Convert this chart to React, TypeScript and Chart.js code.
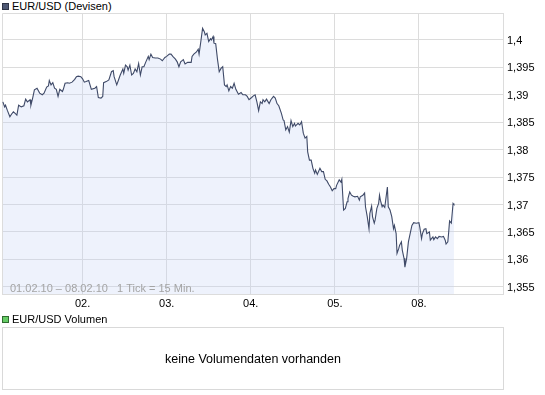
import React, { useEffect, useRef } from "react";
import { Chart, registerables } from "chart.js";

Chart.register(...registerables);

// hours relative to 02.02.10 00:00 (trading time, weekend compressed)
const tickHours = [
  -22.75, -22.25, -22, -21.5, -20.75, -20.25, -19.75, -19.25, -18.75, -18.25,
  -17.5, -16.75, -16.25, -15.75, -15, -14.75, -14.25, -13.75, -13, -12.25,
  -11.5, -11, -10.25, -9.75, -9.5, -9, -8.5, -8, -7.5, -7,
  -6.5, -5.75, -5.5, -5, -4.25, -3.75, -3, -2.25, -1.75, -1.25,
  -0.5, 0, 0.5, 1, 1.75, 2.5, 3.5, 4, 4.5, 5.25,
  5.75, 6, 6.75, 7.5, 8.25, 8.75, 9, 9.75, 10.25, 10.75,
  11.5, 11.75, 12.25, 12.75, 13, 13.5, 14, 14.5, 15, 15.5,
  16, 16.5, 17, 17.5, 18, 18.75, 19, 19.5, 20, 20.75,
  21.5, 22.25, 22.75, 23.5, 24, 24.75, 25.25, 25.75, 26.5, 27,
  27.5, 28, 28.75, 29.25, 30, 31, 31.25, 31.75, 32.5, 33,
  33.25, 33.75, 34.25, 34.75, 35, 35.5, 36, 36.5, 36.75, 37.25,
  37.5, 38, 38.5, 39, 39.5, 40, 40.5, 41, 41.25, 41.75,
  42.25, 42.75, 43.25, 43.75, 44.5, 45.25, 45.75, 46.5, 47, 47.5,
  48.25, 48.75, 49.25, 49.75, 50.25, 50.75, 51.25, 51.5, 52, 52.5,
  53.25, 53.75, 54.5, 55, 55.5, 56, 56.75, 57.25, 57.5, 58,
  58.5, 59, 59.5, 60, 60.5, 60.75, 61.5, 62, 62.5, 63,
  63.5, 64, 64.25, 64.75, 65.25, 65.75, 66.25, 66.5, 67, 67.75,
  68.25, 68.75, 69.25, 69.75, 70.25, 70.75, 71.25, 71.75, 72.25, 72.5,
  73.25, 73.75, 74, 74.5, 75, 75.5, 75.75, 76.25, 76.75, 77.25,
  77.75, 78.5, 79, 79.25, 80, 80.5, 80.75, 81.25, 81.75, 82,
  82.5, 82.75, 83.25, 83.5, 84, 84.5, 84.75, 85, 85.5, 85.75,
  86.25, 87, 87.25, 87.75, 88.25, 88.75, 89, 89.5, 89.75, 90.25,
  90.5, 91, 91.25, 91.75, 92, 92.5, 93, 93.5, 94, 94.5,
  95.25, 96, 96.25, 96.75, 97, 97.5, 98, 98.25, 99, 99.25,
  100, 100.25, 100.75, 101.25, 101.75, 102.5, 103, 103.5, 103.75, 104.25,
  104.5, 104.75, 105.25, 105.5, 105.75, 106,
];

const rates = [
  1.3887, 1.3878, 1.3881, 1.3872, 1.386, 1.3865, 1.3869, 1.3866, 1.3863, 1.3881,
  1.3878, 1.388, 1.3892, 1.3887, 1.3891, 1.3881, 1.3894, 1.3909, 1.3912, 1.3903,
  1.39, 1.3903, 1.3914, 1.3916, 1.3926, 1.3918, 1.3922, 1.3912, 1.391, 1.3897,
  1.391, 1.3906, 1.391, 1.3921, 1.3922, 1.3921, 1.3923, 1.3928, 1.3933, 1.3934,
  1.3933, 1.3929, 1.3923, 1.3924, 1.3926, 1.391, 1.3912, 1.3915, 1.3895, 1.3894,
  1.3897, 1.3922, 1.3924, 1.3927, 1.3942, 1.3944, 1.3933, 1.3918, 1.3927, 1.3936,
  1.3947, 1.3939, 1.3954, 1.3951, 1.3945, 1.3954, 1.3936, 1.3939, 1.3947, 1.3942,
  1.3957, 1.3936, 1.3951, 1.3951, 1.3959, 1.397, 1.3964, 1.3974, 1.3968, 1.3967,
  1.3967, 1.3965, 1.3962, 1.3968, 1.397, 1.3974, 1.3974, 1.397, 1.3965, 1.396,
  1.3951, 1.396, 1.3964, 1.3956, 1.3959, 1.3959, 1.397, 1.3974, 1.3978, 1.3983,
  1.3974, 1.3997, 1.4021, 1.4015, 1.4009, 1.4012, 1.3997, 1.4002, 1.4, 1.4006,
  1.3994, 1.3993, 1.3965, 1.3942, 1.3948, 1.3951, 1.3918, 1.3915, 1.3918, 1.3907,
  1.3915, 1.3912, 1.3921, 1.391, 1.3901, 1.3904, 1.39, 1.39, 1.3897, 1.3891,
  1.3895, 1.3898, 1.39, 1.3887, 1.3871, 1.3887, 1.3884, 1.3891, 1.3887, 1.3892,
  1.3884, 1.3891, 1.3897, 1.3894, 1.3884, 1.388, 1.3866, 1.3854, 1.3853, 1.3836,
  1.3842, 1.3832, 1.3853, 1.3842, 1.3848, 1.3843, 1.3848, 1.3845, 1.3851, 1.383,
  1.3821, 1.3824, 1.3796, 1.3781, 1.3781, 1.3766, 1.3757, 1.3763, 1.3755, 1.3766,
  1.376, 1.376, 1.3746, 1.3743, 1.3737, 1.3732, 1.3725, 1.3729, 1.3729, 1.3735,
  1.3745, 1.3741, 1.3746, 1.369, 1.3693, 1.3705, 1.3711, 1.3723, 1.3717, 1.3715,
  1.3714, 1.3715, 1.3708, 1.3714, 1.3717, 1.3721, 1.3696, 1.3678, 1.3656, 1.3684,
  1.3697, 1.3678, 1.3666, 1.3672, 1.3693, 1.3702, 1.3717, 1.3708, 1.3696, 1.3699,
  1.3695, 1.3732, 1.3696, 1.369, 1.3678, 1.3656, 1.3662, 1.3647, 1.3611, 1.362,
  1.3626, 1.3632, 1.3617, 1.3602, 1.3586, 1.3602, 1.3632, 1.3647, 1.3662, 1.3667,
  1.3666, 1.3667, 1.3659, 1.3638, 1.3647, 1.3655, 1.3656, 1.3647, 1.365, 1.3635,
  1.3641, 1.3636, 1.3641, 1.3638, 1.3642, 1.3641, 1.3642, 1.3635, 1.3628, 1.3632,
  1.365, 1.367, 1.3666, 1.3684, 1.3702, 1.37,
];

const xTickHours = [0, 24, 48, 72, 96];
const xTickLabels = ["02.", "03.", "04.", "05.", "08."];
const yTickValues = [1.355, 1.36, 1.365, 1.37, 1.375, 1.38, 1.385, 1.39, 1.395, 1.4];
const rangeText = "01.02.10 \u2013 08.02.10   1 Tick = 15 Min.";
const seriesTitle = "EUR/USD (Devisen)";
const volumeTitle = "EUR/USD Volumen";
const volumeEmptyText = "keine Volumendaten vorhanden";

const FONT = "'Liberation Sans', Arial, sans-serif";
const GRID = "#dcdcdc";

export default function App() {
  const ref = useRef<HTMLCanvasElement>(null);

  useEffect(() => {
    if (!ref.current) return;
    Chart.defaults.font.family = FONT;
    Chart.defaults.font.size = 11;

    const framePlugin = {
      id: "frame",
      beforeDatasetsDraw(chart: any) {
        const { ctx, chartArea: a } = chart;
        ctx.save();
        ctx.strokeStyle = GRID;
        ctx.lineWidth = 1;
        ctx.beginPath();
        ctx.moveTo(Math.round(a.left) + 0.5, Math.round(a.bottom));
        ctx.lineTo(Math.round(a.left) + 0.5, Math.round(a.top) + 0.5);
        ctx.lineTo(Math.round(a.right), Math.round(a.top) + 0.5);
        ctx.stroke();
        ctx.restore();
      },
      afterDatasetsDraw(chart: any) {
        const { ctx, chartArea: a } = chart;
        ctx.save();
        ctx.fillStyle = "#a4a4a4";
        ctx.font = "11px " + FONT;
        ctx.textBaseline = "middle";
        ctx.textAlign = "left";
        ctx.fillText(rangeText, a.left + 8, a.bottom - 5.5);
        ctx.restore();
      },
    };

    const chart = new Chart(ref.current, {
      type: "line",
      data: {
        datasets: [
          {
            label: seriesTitle,
            data: tickHours.map((h, i) => ({ x: h, y: rates[i] })),
            borderColor: "#3f4a68",
            borderWidth: 1.1,
            backgroundColor: "rgba(200, 213, 245, 0.3)",
            fill: "start",
            pointRadius: 0,
            tension: 0,
          },
        ],
      },
      options: {
        animation: false,
        responsive: false,
        events: [],
        layout: { padding: { left: 2, top: 13, right: 0, bottom: 0 } },
        plugins: { legend: { display: false }, tooltip: { enabled: false } },
        scales: {
          x: {
            type: "linear",
            min: -23,
            max: 120,
            afterFit: (s: any) => {
              s.height = 21;
            },
            afterBuildTicks: (s: any) => {
              s.ticks = xTickHours.map((v) => ({ value: v }));
            },
            grid: { color: GRID, drawTicks: false },
            border: { display: true, color: GRID },
            ticks: {
              padding: 3,
              color: "#000",
              maxRotation: 0,
              autoSkip: false,
              callback: (v: any) => xTickLabels[xTickHours.indexOf(Number(v))] ?? "",
            },
          },
          y: {
            position: "right",
            min: 1.3537,
            max: 1.4049,
            afterFit: (s: any) => {
              s.width = 42;
            },
            afterBuildTicks: (s: any) => {
              s.ticks = yTickValues.map((v) => ({ value: v }));
            },
            grid: { color: GRID, drawTicks: false },
            border: { display: true, color: GRID },
            ticks: {
              padding: 4,
              labelOffset: 1,
              color: "#000",
              autoSkip: false,
              callback: (v: any) => String(v).replace(".", ","),
            },
          },
        },
      },
      plugins: [framePlugin],
    } as any);

    return () => chart.destroy();
  }, []);

  const textStyle: React.CSSProperties = {
    position: "absolute",
    fontFamily: FONT,
    fontSize: 11,
    lineHeight: "13px",
    color: "#000",
    whiteSpace: "nowrap",
  };

  return (
    <div
      style={{
        position: "absolute",
        left: 0,
        top: 0,
        width: 545,
        height: 395,
        background: "#fff",
        overflow: "hidden",
      }}
    >
      <div
        style={{
          position: "absolute",
          left: 2,
          top: 3,
          width: 7,
          height: 7,
          boxSizing: "border-box",
          background: "#4e5874",
          border: "1px solid #2e3446",
        }}
      />
      <div style={{ ...textStyle, left: 12, top: 0 }}>{seriesTitle}</div>
      <canvas
        ref={ref}
        width={545}
        height={315}
        style={{ position: "absolute", left: 0, top: 0, width: 545, height: 315 }}
      />
      <div
        style={{
          position: "absolute",
          left: 2,
          top: 316,
          width: 7,
          height: 7,
          boxSizing: "border-box",
          background: "#66cc66",
          border: "1px solid #2f6b2f",
        }}
      />
      <div style={{ ...textStyle, left: 12, top: 313 }}>{volumeTitle}</div>
      <div
        style={{
          position: "absolute",
          left: 2,
          top: 327,
          width: 502,
          height: 63,
          boxSizing: "border-box",
          border: "1px solid #d9d9d9",
          display: "flex",
          alignItems: "center",
          justifyContent: "center",
          fontFamily: FONT,
          fontSize: 12.5,
          color: "#000",
        }}
      >
        {volumeEmptyText}
      </div>
    </div>
  );
}
